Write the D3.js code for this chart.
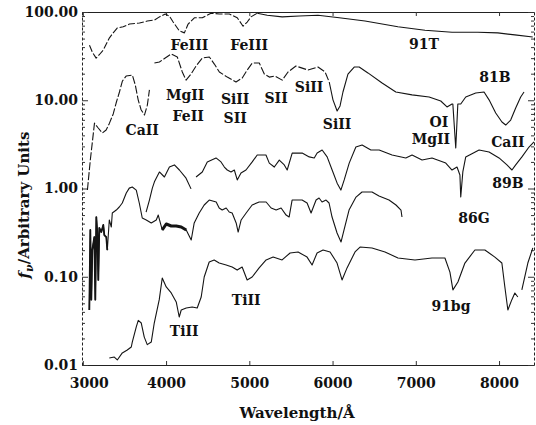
<!DOCTYPE html>
<html>
<head>
<meta charset="utf-8">
<script src="https://cdn.jsdelivr.net/npm/d3@7"></script>
<style>
  body { margin: 0; background: #fff; }
  svg text { font-family: "DejaVu Serif", serif; font-weight: bold; fill: #111; }
</style>
</head>
<body>
<svg id="chart" width="536" height="425"></svg>
<script>
// ---- data (wavelength in A, flux in arbitrary units, null = gap) ----
const wl91T = [3080,3115,3160,3200,3245,3320,3365,3415,3485,3560,3680,3775,3860,3920,3990,4040,4085,4160,4220,4265,4340,4435,4540,4640,4760,4855,4925,4975,5020,5095,5215,5395,5600,5825,6080,6390,6785,7110,7435,7745,7985,8190,8405];
const f91T = [42,35,30,33,37,51,58,66,68,73,75,79,81,88,95,90,77,61,58,73,86,86,97,95,95,86,69,77,88,97,92,88,90,92,86,79,68,62,59,59,58,55,52];

const wl81B = [3055,3090,3140,3185,3235,3280,3320,3365,3400,3440,3475,3520,3595,3630,3665,3700,3740,3775,3800,3830,
  3860,3920,3990,4060,4135,4195,4240,4300,4360,4435,4520,4580,4640,4735,4840,4915,4975,5035,5120,5180,5240,5310,5395,5465,5560,
  5705,5825,5910,5960,6005,6055,6090,6125,6185,6260,6320,6425,6595,6760,6955,7160,7300,7375,7435,7445,7480,7505,7540,7600,7720,
  7820,7880,7960,8035,8080,8140,8200,8260,8300];
const f81B = [0.96,2.1,5.5,4.85,4.26,4.6,5.5,7.0,9.3,12.4,16.5,18.8,19.3,14.9,10.1,7.8,6.8,8.8,13.1,null,
  26.4,27.1,30.1,33.4,30.9,20.9,16.9,19.8,24.4,30.1,30.9,25.7,20.9,18.3,16.1,17.9,22.0,26.4,26.4,19.8,18.3,18.8,16.9,20.9,24.4,
  22.0,23.8,20.9,16.1,10.1,7.55,8.61,12.4,19.8,23.8,23.8,20.4,15.7,12.4,11.5,10.9,9.81,8.39,9.07,9.07,2.88,9.07,9.07,10.9,12.1,
  12.4,10.1,7.17,5.67,5.24,5.97,8.17,10.9,12.4];

const wl89B = [3760,3800,3835,3860,3920,3980,4040,4100,4160,4240,4300,4330,
  4360,4435,4495,4600,4660,4700,4735,4780,4820,4855,4900,4960,5035,5095,5200,5240,5300,5360,5420,5455,5515,5635,5720,5780,5815,
  5875,5935,5995,6055,6100,6140,6200,6280,6355,6460,6560,6715,6880,6955,7075,7195,7360,7435,7495,7530,7540,7565,7600,7760,7880,
  8000,8095,8155,8200,8275,8360,8420];
const f89B = [0.54,0.74,1.01,1.19,1.54,1.35,1.75,1.85,1.62,1.31,0.99,null,
  1.35,1.54,2.0,2.22,2.0,1.75,1.62,1.54,1.62,1.25,1.50,1.62,2.0,2.40,2.40,1.94,1.75,2.10,1.85,1.62,2.52,2.52,2.28,2.22,2.52,
  2.73,2.28,1.62,1.15,0.96,1.25,1.94,2.95,3.11,2.73,2.73,2.40,2.22,2.40,2.10,2.22,1.94,1.62,1.75,1.42,0.80,1.54,2.28,2.73,2.59,
  2.22,1.85,1.62,1.85,2.28,2.95,3.37];

const wl86G = [3078,3090,3102,3114,3138,3150,3162,3174,3186,3198,3222,3246,3258,3282,3294,3318,3342,3354,3402,3438,3474,3522,
  3558,3594,3642,3678,3714,3762,3822,3882,3906,3954,4002,4062,4122,4182,4242,4302,4338,4398,4458,4518,4602,4638,4674,4722,4758,
  4794,4842,4866,4902,4962,5034,5118,5202,5262,5322,5382,5442,5478,5514,5634,5694,5742,5802,5838,5874,5922,5958,5994,6054,6102,
  6138,6198,6282,6354,6474,6558,6678,6762,6822,6834];
const f86G = [0.042,0.339,0.055,0.201,0.282,0.055,0.475,0.313,0.092,0.357,0.321,0.386,0.297,0.282,0.201,0.44,0.366,0.527,0.57,
  0.617,0.685,0.889,1.01,1.04,0.96,0.685,0.463,0.44,0.407,0.44,0.50,0.339,0.396,0.376,0.376,0.366,0.339,0.261,0.407,0.527,0.65,
  0.74,0.703,0.601,0.57,0.601,0.542,0.527,0.407,0.321,0.44,0.527,0.65,0.703,0.703,0.601,0.57,0.601,0.50,0.475,0.74,0.74,0.685,
  0.527,0.74,0.78,0.703,0.74,0.685,0.475,0.313,0.248,0.339,0.57,0.80,0.912,0.912,0.822,0.74,0.65,0.57,0.475];

const wl91bg = [3318,3378,3414,3474,3534,3582,3594,3642,3666,3702,3738,3774,3822,3858,3918,3954,4002,4062,4122,4158,4182,4242,
  4314,4374,4422,4458,4518,4578,4638,4722,4794,4854,4914,4974,5034,5118,5202,5286,5394,5490,5586,5694,5754,5814,5886,5970,6054,
  6114,6174,6270,6330,6474,6630,6786,6990,7194,7350,7410,7446,7506,7590,7710,7830,7950,8034,8070,8106,8154,8190,8226,8250,
  8274,8346,8406];
const f91bg = [0.0120,0.0123,0.0114,0.0137,0.0148,0.0160,0.0182,0.0270,0.032,0.0299,0.0207,0.017,0.0182,0.0299,0.055,0.0968,
  0.0766,0.0655,0.0518,0.035,0.042,0.0443,0.0454,0.0443,0.059,0.0993,0.147,0.155,0.143,0.136,0.129,0.119,0.129,0.092,0.0993,
  0.126,0.155,0.167,0.155,0.186,0.191,0.167,0.136,0.186,0.201,0.191,0.143,0.092,0.126,0.191,0.217,0.212,0.191,0.163,0.155,0.163,
  0.163,0.113,0.071,0.0873,0.143,0.201,0.201,0.167,0.143,0.0766,0.042,0.055,0.0655,0.059,null,
  0.071,0.143,0.212];

const xTicks = [3000, 4000, 5000, 6000, 7000, 8000];
const yTicks = [0.01, 0.1, 1, 10, 100];

// line identifications: text, wavelength, flux of label centre
const lineLabels = ["FeIII", "FeIII", "91T", "CaII", "MgII", "FeII", "SiII", "SII", "SII", "SiII", "SiII", "81B",
  "OI", "MgII", "CaII", "89B", "86G", "91bg", "TiII", "TiII"];
const lineLabelWl = [4280, 4998, 7098, 3714, 4230, 4266, 4830, 4830, 5322, 5718, 6054, 7950,
  7278, 7182, 8106, 8106, 7698, 7422, 4962, 4218];
const lineLabelF = [42.3, 42.3, 43.4, 4.6, 11.5, 6.63, 10.3, 6.29, 10.6, 14.1, 5.38, 18.3,
  5.67, 3.64, 3.37, 1.15, 0.463, 0.0466, 0.055, 0.0243];

const width = 536;
const height = 425;
const mLeft = 82, mRight = 534, mTop = 12, mBottom = 365;

const svg = d3.select("#chart").attr("viewBox", [0, 0, width, height]);
svg.append("rect").attr("width", width).attr("height", height).attr("fill", "#fff");

const x = d3.scaleLinear().domain([2990, 8420]).range([mLeft, mRight]);
const y = d3.scaleLog().domain([0.01, 100]).range([mBottom, mTop]);

// minor log ticks
const yMinor = [];
[0.01, 0.1, 1, 10].forEach((dec) => {
  for (let k = 2; k <= 9; k++) yMinor.push(dec * k);
});

// ---- axes ----
const xAxis = svg.append("g")
  .attr("transform", `translate(0,${mBottom})`)
  .call(d3.axisBottom(x).tickValues(xTicks).tickFormat(d3.format("d"))
    .tickSizeInner(-4).tickSizeOuter(0).tickPadding(13));
xAxis.selectAll("text").style("font-size", "14px")
  .attr("dx", (d) => (d === 3000 ? 6 : 0));

svg.append("g")
  .attr("transform", `translate(0,${mTop})`)
  .call(d3.axisTop(x).tickValues(xTicks).tickFormat("").tickSizeInner(-4).tickSizeOuter(0));

const yAxis = svg.append("g")
  .attr("transform", `translate(${mLeft},0)`)
  .call(d3.axisLeft(y).tickValues(yTicks).tickFormat(d3.format(".2f"))
    .tickSizeInner(-6).tickSizeOuter(0).tickPadding(4));
yAxis.selectAll("text").style("font-size", "14px");
yAxis.select(".domain").attr("stroke-dasharray", "3,2");

svg.append("g")
  .attr("transform", `translate(${mLeft},0)`)
  .call(d3.axisLeft(y).tickValues(yMinor).tickFormat("").tickSizeInner(-3).tickSizeOuter(0))
  .select(".domain").remove();

const yAxisR = svg.append("g")
  .attr("transform", `translate(${mRight},0)`)
  .call(d3.axisRight(y).tickValues(yTicks).tickFormat("").tickSizeInner(-6).tickSizeOuter(0));
yAxisR.select(".domain").attr("stroke-dasharray", "3,2");
svg.append("g")
  .attr("transform", `translate(${mRight},0)`)
  .call(d3.axisRight(y).tickValues(yMinor).tickFormat("").tickSizeInner(-3).tickSizeOuter(0))
  .select(".domain").remove();

svg.selectAll(".domain").attr("stroke", "#222");
svg.selectAll(".tick line").attr("stroke", "#333");

// ---- spectra ----
const line = d3.line()
  .defined((d) => d[1] != null)
  .x((d) => x(d[0]))
  .y((d) => y(d[1]));

const pairs = (wl, f) => wl.map((w, i) => [w, f[i]]);

const gLines = svg.append("g").attr("fill", "none").attr("stroke", "#141414")
  .attr("stroke-width", 1.1).attr("stroke-linejoin", "round");

// the scanned 91T and 81B traces look broken in their blue parts
const p91T = pairs(wl91T, f91T);
gLines.append("path").attr("d", line(p91T.filter((d) => d[0] <= 5100))).attr("stroke-dasharray", "7,2");
gLines.append("path").attr("d", line(p91T.filter((d) => d[0] >= 5095)));

const p81B = pairs(wl81B, f81B);
gLines.append("path").attr("d", line(p81B.filter((d) => d[0] <= 5960))).attr("stroke-dasharray", "8,2");
gLines.append("path").attr("d", line(p81B.filter((d) => d[0] >= 5960)));

gLines.append("path").attr("d", line(pairs(wl89B, f89B)));
gLines.append("path").attr("d", line(pairs(wl86G, f86G)));
gLines.append("path").attr("d", line(pairs(wl91bg, f91bg)));

// noisy thick part of 86G
const p86G = pairs(wl86G, f86G);
gLines.append("path").attr("d", line(p86G.filter((d) => d[0] >= 3950 && d[0] <= 4250))).attr("stroke-width", 3);
gLines.append("path").attr("d", line(p86G.filter((d) => d[0] <= 3300))).attr("stroke-width", 1.8);

// ---- labels ----
svg.append("g").selectAll("text")
  .data(lineLabels)
  .join("text")
  .attr("x", (d, i) => x(lineLabelWl[i]))
  .attr("y", (d, i) => y(lineLabelF[i]))
  .attr("dy", "0.35em")
  .attr("text-anchor", "middle")
  .style("font-size", "14px")
  .text((d) => d);

svg.append("text")
  .attr("x", 297)
  .attr("y", 418)
  .attr("text-anchor", "middle")
  .style("font-size", "15px")
  .text("Wavelength/Å");

const yTitle = svg.append("text")
  .attr("transform", "translate(29,205) rotate(-90)")
  .attr("text-anchor", "middle")
  .style("font-size", "15px");
yTitle.append("tspan").style("font-style", "italic").text("f");
yTitle.append("tspan").attr("dy", 4).style("font-size", "11px").style("font-style", "italic").text("ν");
yTitle.append("tspan").attr("dy", -4).text("/Arbitrary Units");
</script>
</body>
</html>
